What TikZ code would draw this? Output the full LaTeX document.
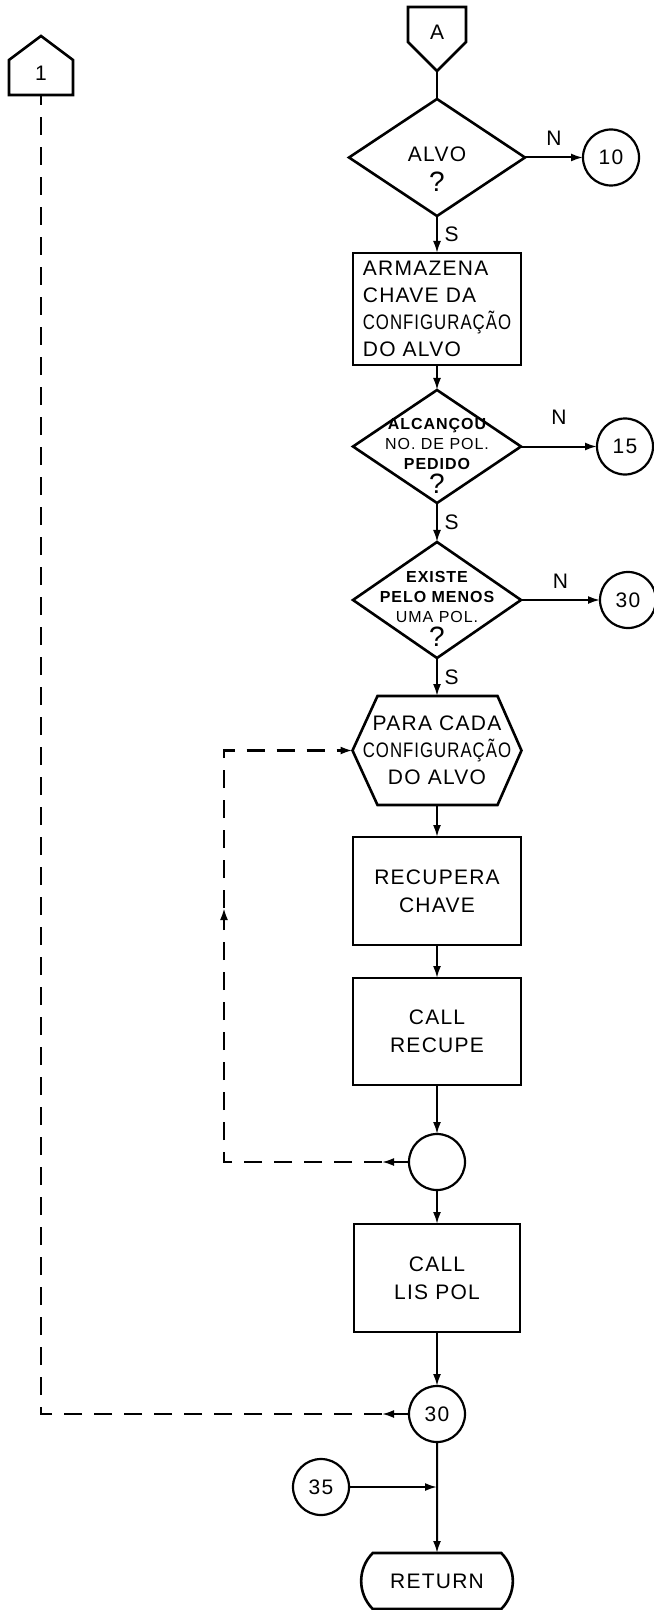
\documentclass[tikz,border=0pt]{standalone}
\usepackage{fontspec}
\setmainfont{Liberation Sans}[LetterSpace=6]
\usetikzlibrary{arrows.meta, positioning, shapes.geometric, shapes.misc}

\begin{document}
\begin{tikzpicture}[
  >={Latex[length=6pt,width=4pt]},
  line width=1pt,
  font=\fontsize{10.5}{14}\selectfont,
  node distance=16pt,
  process/.style={draw, rectangle, line width=1.3pt, outer sep=0pt, minimum width=84pt, minimum height=54pt, align=center},
  decision/.style={draw, diamond, line width=1.3pt, outer sep=0pt, minimum width=84pt, minimum height=57pt, inner sep=0pt},
  conn/.style={draw, circle, line width=1.1pt, outer sep=0pt, minimum size=28pt, inner sep=0pt},
  frame/.style={rectangle, outer sep=0pt, inner sep=0pt},
  outline/.style={line width=1.3pt, line join=miter},
  terminal/.style={draw, rounded rectangle, rounded rectangle arc length=90, line width=1.3pt, outer sep=0pt, minimum width=82.5pt, minimum height=28pt},
  qtext/.style={align=center, font=\fontsize{8}{10}\selectfont},
  flowback/.style={dash pattern=on 9pt off 6pt, line width=1.1pt}
]
  \useasboundingbox (0,0) rectangle (326.5pt,-805pt);

  % coluna principal
  \node[frame, minimum width=29pt, minimum height=32pt, text depth=7pt, anchor=north] (conA) at (218.5pt,-3.5pt) {A};
  \node[decision, below=14pt of conA, minimum width=88pt, minimum height=58.5pt,
        label={[align=center, yshift=-6pt]center:{ALVO\\[1pt]{\fontsize{14}{14}\selectfont ?}}}] (alvo) {};
  \node[process, below=18.5pt of alvo, minimum height=56pt, align=left, font=\fontsize{10.5}{13.5}\selectfont] (store) {ARMAZENA\\CHAVE DA\\\scalebox{0.8}[1]{CONFIGURAÇÃO}\\DO ALVO};
  \node[decision, below=12.5pt of store, minimum height=56.5pt,
        label={[qtext, yshift=-4.5pt]center:{{\bfseries ALCANÇOU}\\NO. DE POL.\\{\bfseries PEDIDO}\\[2pt]{\fontsize{14}{14}\selectfont ?}}}] (reach) {};
  \node[decision, below=19.5pt of reach, minimum height=58pt,
        label={[qtext, yshift=-4.5pt]center:{{\bfseries EXISTE}\\{\bfseries PELO MENOS}\\UMA POL.\\[2pt]{\fontsize{14}{14}\selectfont ?}}}] (exist) {};
  \node[frame, below=19pt of exist, minimum width=84.5pt, minimum height=54.5pt, align=center, font=\fontsize{10.5}{13.5}\selectfont] (foreach) {PARA CADA\\\scalebox{0.8}[1]{CONFIGURAÇÃO}\\DO ALVO};
  \node[process, below=16pt of foreach] (fetch) {RECUPERA\\CHAVE};
  \node[process, below=16.5pt of fetch, minimum height=53.5pt] (recupe) {CALL\\RECUPE};
  \node[conn, below=24.5pt of recupe] (loopend) {};
  \node[process, below=17pt of loopend, minimum width=83pt] (lispol) {CALL\\LIS POL};
  \node[conn, below=27pt of lispol] (c30) {30};
  \node[terminal, below=55.5pt of c30] (ret) {RETURN};
  \node[conn, below=8.5pt of c30, xshift=-58pt] (c35) {35};

  % saidas a direita
  \node[conn, right=29pt of alvo] (c10) {10};
  \node[conn, right=38pt of reach] (c15) {15};
  \node[conn, right=39.5pt of exist] (c30b) {30};

  % conector de volta
  \node[frame, minimum width=32pt, minimum height=29.5pt, text height=15pt, anchor=south] (con1) at (20.5pt,-47.5pt) {1};

  % contornos dos conectores e do laco
  \draw[outline] (conA.north west) -- (conA.north east) -- ([yshift=14.5pt]conA.south east)
    -- (conA.south) -- ([yshift=14.5pt]conA.south west) -- cycle;
  \draw[outline] (con1.south west) -- ([yshift=-12pt]con1.north west) -- (con1.north)
    -- ([yshift=-12pt]con1.north east) -- (con1.south east) -- cycle;
  \draw[outline] (foreach.west) -- ([xshift=12.5pt]foreach.north west) -- ([xshift=-12pt]foreach.north east)
    -- (foreach.east) -- ([xshift=-12pt]foreach.south east) -- ([xshift=12.5pt]foreach.south west) -- cycle;

  % ligacoes
  \draw (conA) -- (alvo);
  \draw[->] (alvo) -- node[right] {S} (store);
  \draw[->] (alvo) -- node[above=2pt] {N} (c10);
  \draw[->] (store) -- (reach);
  \draw[->] (reach) -- node[right] {S} (exist);
  \draw[->] (reach) -- node[above=7pt] {N} (c15);
  \draw[->] (exist) -- node[right] {S} (foreach);
  \draw[->] (exist) -- node[above=2pt] {N} (c30b);
  \draw[->] (foreach) -- (fetch);
  \draw[->] (fetch) -- (recupe);
  \draw[->] (recupe) -- (loopend);
  \draw[->] (loopend) -- (lispol);
  \draw[->] (lispol) -- (c30);
  \draw[->] (c30) -- (ret);
  \draw[->] (c35) -- (c35 -| c30);

  % laco
  \coordinate (loopout) at ([xshift=-13.5pt]loopend.west);
  \coordinate (loopup) at (112pt,-454pt);
  \draw[->] (loopend) -- (loopout);
  \draw[flowback, ->] (loopout) -| (loopup);
  \draw[flowback, ->] (loopup) |- (foreach.west);

  % retorno ao conector 1
  \coordinate (backout) at ([xshift=-13.5pt]c30.west);
  \draw[->] (c30) -- (backout);
  \draw[flowback] (backout) -| (con1.south);
\end{tikzpicture}
\end{document}
